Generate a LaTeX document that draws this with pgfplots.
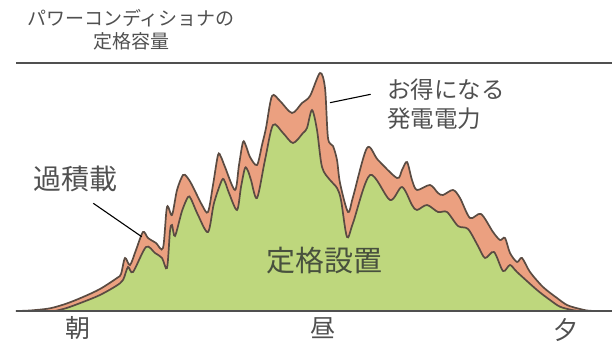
\documentclass[border=0pt]{standalone}
\usepackage{pgfplots}
\pgfplotsset{compat=1.18}
\usepackage{fontspec}
\setmainfont{Noto Sans CJK JP}
\definecolor{surplus}{RGB}{235,160,128}
\definecolor{rated}{RGB}{190,215,125}
\definecolor{edge}{RGB}{90,75,66}
\definecolor{txt}{RGB}{80,80,80}
\definecolor{txtg}{RGB}{72,80,62}
\begin{document}
\begin{tikzpicture}
\begin{axis}[
  width=612pt, height=342pt, scale only axis,
  hide axis,
  xmin=0, xmax=612, ymin=-31, ymax=311,
]
% keep the whole frame as the picture's extent
\path (rel axis cs:0,0) rectangle (rel axis cs:1,1);
% generation with over-sized panels (upper curve)
\addplot[fill=surplus, draw=edge, line width=1.7pt, smooth, tension=0.5] coordinates {
 (16,0) (30,0.5) (50,2.7) (66.7,7.5) (83,14) (100,22) (117,33) (121,37)
 (125,53) (130,46) (136,61) (143,79) (148,73) (156,68) (163,63)
 (167,104) (172,96) (177,121) (183,136) (187,134) (192,126) (202,106)
 (208,99) (213,126) (218,156) (221,154) (225,144) (235,121)
 (239,146) (243,169) (246,165) (250,154) (257,146) (262,166)
 (266,183) (272,215) (280,210) (292,198) (302,208) (310,215)
 (320,238) (325,223) (328,173) (333,165) (337,151) (340,128)
 (348,99) (353,114) (367,163) (378,151) (397,133) (402,141) (407,149)
 (412,131) (417,121) (430,126) (438,118) (443,116) (453,121) (460,113)
 (470,93) (481,97) (493,79) (500,71) (505,73) (510,58) (517,49) (522,53)
 (530,39) (543,24) (557,13) (567,6) (578,2.5) (587,0.5) (595,0)
} \closedcycle;
% generation with rated panels (lower curve)
\addplot[fill=rated, draw=edge, line width=1.7pt, smooth, tension=0.5] coordinates {
 (55,0) (66.7,3) (83,9) (100,16) (116,25) (123,31) (128,44) (133,39)
 (146,64) (155,58) (162,53) (167,43) (170,80) (172,86) (175,75)
 (182,100) (188,114) (191,112) (198,96) (208,79) (214,108) (222,131)
 (225,129) (229,118) (237,101) (241,124) (245,143) (248,140) (251,131)
 (257,113) (265,151) (273,186) (283,178) (293,168) (303,178) (307,183)
 (312,201) (317,181) (322,144) (330,131) (337,123) (341,111) (347,74)
 (353,88) (370,136) (390,111) (402,124) (412,106) (417,101) (427,106)
 (438,99) (447,99) (458,85) (468,82) (478,65) (485,53) (494,59)
 (503,40) (510,46) (517,39) (537,21) (550,11) (560,4.3) (572,1) (580,0)
} \closedcycle;
% time axis and rated capacity of the power conditioner
\addplot[draw=txt, line width=1.6pt] coordinates {(16,0) (612,0)};
\addplot[draw=txt, line width=1.8pt] coordinates {(16,248.3) (612,248.3)};
% leader lines
\addplot[draw=black, line width=1.1pt] coordinates {(93.3,107.7) (141.7,74.3)};
\addplot[draw=black, line width=1.1pt] coordinates {(330,208.3) (370.7,216.7)};
% labels
\node[text=txt, inner sep=0pt, align=center, font=\fontsize{19}{23}\selectfont]
  at (axis cs:131,281) {パワーコンディショナの\\定格容量};
\node[text=txt, inner sep=0pt, align=left, anchor=west, font=\fontsize{23.5}{29.5}\selectfont]
  at (axis cs:387,207) {お得になる\\発電電力};
\node[text=txt, inner sep=0pt, font=\fontsize{28}{32}\selectfont]
  at (axis cs:75.5,132) {過積載};
\node[text=txtg, inner sep=0pt, font=\fontsize{29}{33}\selectfont]
  at (axis cs:324,50) {定格設置};
\node[text=txt, inner sep=0pt, font=\fontsize{25}{28}\selectfont] at (axis cs:78,-17) {朝};
\node[text=txt, inner sep=0pt, font=\fontsize{25}{28}\selectfont] at (axis cs:323,-17) {昼};
\node[text=txt, inner sep=0pt, font=\fontsize{25}{28}\selectfont] at (axis cs:566,-19) {夕};
\end{axis}
\end{tikzpicture}
\end{document}
